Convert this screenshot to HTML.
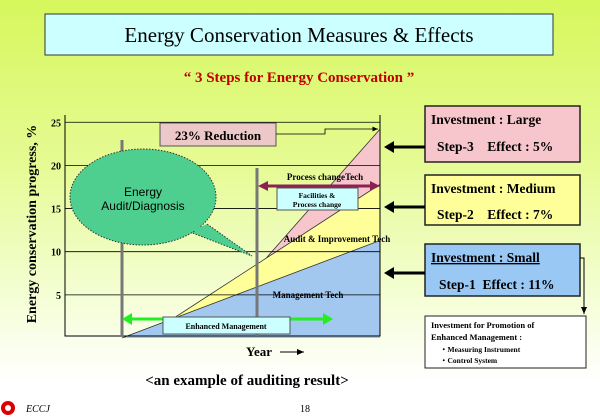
<!DOCTYPE html>
<html><head><meta charset="utf-8"><style>
html,body{margin:0;padding:0;background:#fff}
body{width:600px;height:415px;overflow:hidden}
svg text{font-family:"Liberation Serif",serif}
svg text.sans{font-family:"Liberation Sans",sans-serif}
</style></head><body>
<svg width="600" height="415" viewBox="0 0 600 415" xmlns="http://www.w3.org/2000/svg">
<defs>
<marker id="ah" markerWidth="8" markerHeight="8" refX="7" refY="4" orient="auto"><path d="M0,1 L7,4 L0,7 z" fill="#000"/></marker>
<linearGradient id="bg" x1="0" y1="0" x2="0" y2="1">
<stop offset="0" stop-color="#d6f75c"/><stop offset="0.4" stop-color="#e6fb95"/><stop offset="0.75" stop-color="#f6fedc"/><stop offset="0.92" stop-color="#ffffff"/></linearGradient>
</defs>
<rect x="0" y="0" width="600" height="415" fill="url(#bg)"/>
<rect x="45" y="14" width="508" height="41" fill="#ccffff" stroke="#333"/>
<text x="299" y="42" text-anchor="middle" font-size="21">Energy Conservation Measures &amp; Effects</text>
<text x="299" y="82" text-anchor="middle" font-size="15" font-weight="bold" fill="#c00000">“ 3 Steps for Energy Conservation ”</text>
<text transform="translate(36,224) rotate(-90)" text-anchor="middle" font-size="14" font-weight="bold">Energy conservation progress, %</text>
<g id="chart"></g>
<rect x="425" y="106" width="155" height="56" fill="#f7c6cc" stroke="#222" stroke-width="1.5"/>
<text x="431" y="124" font-size="13.5" font-weight="bold">Investment : Large</text>
<text x="437" y="151" font-size="13.5" font-weight="bold">Step-3 &#160;&#160; Effect : 5%</text>
<rect x="425" y="175" width="155" height="50" fill="#ffff99" stroke="#222" stroke-width="1.5"/>
<text x="431" y="193" font-size="13.5" font-weight="bold">Investment : Medium</text>
<text x="437" y="219" font-size="13.5" font-weight="bold">Step-2 &#160;&#160; Effect : 7%</text>
<rect x="425" y="244" width="155" height="52" fill="#99c8f4" stroke="#222" stroke-width="1.5"/>
<text x="431" y="262" font-size="13.5" font-weight="bold" text-decoration="underline">Investment : Small</text>
<text x="439" y="289" font-size="13.5" font-weight="bold">Step-1 &#160;Effect : 11%</text>
<polyline points="580,258 584,258 584,314" fill="none" stroke="#000" marker-end="url(#ah)"/>
<rect x="425" y="316" width="161" height="52" fill="#fff" stroke="#222"/>
<text x="431" y="328" font-size="8.5" font-weight="bold">Investment for Promotion of</text>
<text x="431" y="340" font-size="8.5" font-weight="bold">Enhanced Management :</text>
<text x="440" y="352" font-size="7.5" font-weight="bold">・Measuring Instrument</text>
<text x="440" y="363" font-size="7.5" font-weight="bold">・Control System</text>
<g stroke="#000" stroke-width="3">
<line x1="425" y1="147" x2="392" y2="147"/><line x1="425" y1="207" x2="392" y2="207"/><line x1="425" y1="273" x2="392" y2="273"/>
</g>
<g fill="#000"><path d="M384,147 L394,141 L394,153z"/><path d="M384,207 L394,201 L394,213z"/><path d="M384,273 L394,267 L394,279z"/></g>
<text x="246" y="356" font-size="13" font-weight="bold">Year</text>
<line x1="280" y1="352" x2="304" y2="352" stroke="#000" marker-end="url(#ah)"/>
<text x="247" y="385" text-anchor="middle" font-size="15" font-weight="bold">&lt;an example of auditing result&gt;</text>
<circle cx="8" cy="408" r="7" fill="#d00"/>
<circle cx="8" cy="408" r="3" fill="#fff"/>
<text x="26" y="412" font-size="10" font-style="italic">ECCJ</text>
<text x="305" y="412" text-anchor="middle" font-size="10">18</text>
</svg>
<script>
const yTicks=[5,10,15,20,25];
const step1X=[0,10]; const step1Y=[0,11.3];
const step2X=[1.9,10]; const step2Y=[2.1,17.8];
const step3X=[5.6,10]; const step3Y=[9.3,24.2];
const NS="http://www.w3.org/2000/svg";
const X=t=>122+t*25.8, Y=v=>338-8.63*v;
const g=document.getElementById('chart');
function mk(tag,a,p){const e=document.createElementNS(NS,tag);for(const k in a)e.setAttribute(k,a[k]);(p||g).appendChild(e);return e;}
let e=mk('polygon',{points:`${X(step1X[0])},${Y(0)} ${X(step1X[1])},${Y(step1Y[1])} ${X(10)},${Y(0)}`,fill:'#a3c8f0'});


e=mk('polygon',{points:`${X(step2X[0])},${Y(step2Y[0])} ${X(10)},${Y(step2Y[1])} ${X(10)},${Y(step1Y[1])}`,fill:'#ffff99'});


e=mk('polygon',{points:`${X(step3X[0])},${Y(step3Y[0])} ${X(10)},${Y(step3Y[1])} ${X(10)},${Y(step2Y[1])}`,fill:'#f7c6cc'});


[[step1X,step1Y],[step2X,step2Y],[step3X,step3Y]].forEach((s,i)=>{e=mk('line',{x1:X(s[0][0]),y1:Y(s[1][0]),x2:X(s[0][1]),y2:Y(s[1][1]),stroke:'#333','stroke-width':0.8});

});
yTicks.forEach(v=>{e=mk('line',{x1:65,x2:380,y1:Y(v),y2:Y(v),stroke:'#000','stroke-width':0.8});


e=mk('text',{x:61,y:Y(v)+4,'text-anchor':'end','font-size':10,'font-weight':'bold'});e.textContent=v;

});
mk('polyline',{points:`65,115 65,336 380,336 380,115`,fill:'none',stroke:'#000','stroke-width':1});
mk('line',{x1:122,x2:122,y1:140,y2:336,stroke:'#777','stroke-width':3});
mk('line',{x1:257,x2:257,y1:168,y2:336,stroke:'#777','stroke-width':3});
e=mk('path',{d:'M190,232 L252,256 L207,224',fill:'#4fcf8f',stroke:'#333','stroke-dasharray':'1.5,1.5'});
e=mk('ellipse',{cx:143,cy:197,rx:73,ry:48,fill:'#4fcf8f',stroke:'#333','stroke-dasharray':'1.5,1.5'});


mk('path',{d:'M189,229 L250,255 L206,226',fill:'#4fcf8f'});
e=mk('text',{x:143,y:196,'text-anchor':'middle','font-size':12,class:'sans'});e.textContent='Energy';
e=mk('text',{x:143,y:210,'text-anchor':'middle','font-size':12,class:'sans'});e.textContent='Audit/Diagnosis';
e=mk('rect',{x:160,y:123,width:116,height:23,fill:'#ecc8c8',stroke:'#555'});


e=mk('text',{x:218,y:140,'text-anchor':'middle','font-size':13,'font-weight':'bold'});e.textContent='23% Reduction';
mk('polyline',{points:`276,134 325,134 325,129 378,129`,fill:'none',stroke:'#000','stroke-width':0.8,'marker-end':'url(#ah)'});
e=mk('text',{x:325,y:180,'text-anchor':'middle','font-size':9,'font-weight':'bold'});e.textContent='Process changeTech';
mk('line',{x1:264,x2:374,y1:186,y2:186,stroke:'#8b2252','stroke-width':3});
mk('path',{d:'M258,186 L268,181 L268,191z M380,186 L370,181 L370,191z',fill:'#8b2252'});
e=mk('rect',{x:277,y:188,width:81,height:22,fill:'#ccffff',stroke:'#555'});


e=mk('text',{x:317,y:198,'text-anchor':'middle','font-size':7.5,'font-weight':'bold'});e.textContent='Facilities &';
e=mk('text',{x:317,y:207,'text-anchor':'middle','font-size':7.5,'font-weight':'bold'});e.textContent='Process change';
e=mk('text',{x:337,y:242,'text-anchor':'middle','font-size':9,'font-weight':'bold'});e.textContent='Audit & Improvement Tech';
e=mk('text',{x:308,y:298,'text-anchor':'middle','font-size':9,'font-weight':'bold'});e.textContent='Management Tech';
mk('line',{x1:128,x2:327,y1:319,y2:319,stroke:'#22ee22','stroke-width':3});
mk('path',{d:'M122,319 L132,313 L132,325z M333,319 L323,313 L323,325z',fill:'#22ee22'});
e=mk('rect',{x:163,y:317,width:127,height:17,fill:'#ccffff',stroke:'#555'});


e=mk('text',{x:226,y:329,'text-anchor':'middle','font-size':8,'font-weight':'bold'});e.textContent='Enhanced Management';
</script>
</body></html>
